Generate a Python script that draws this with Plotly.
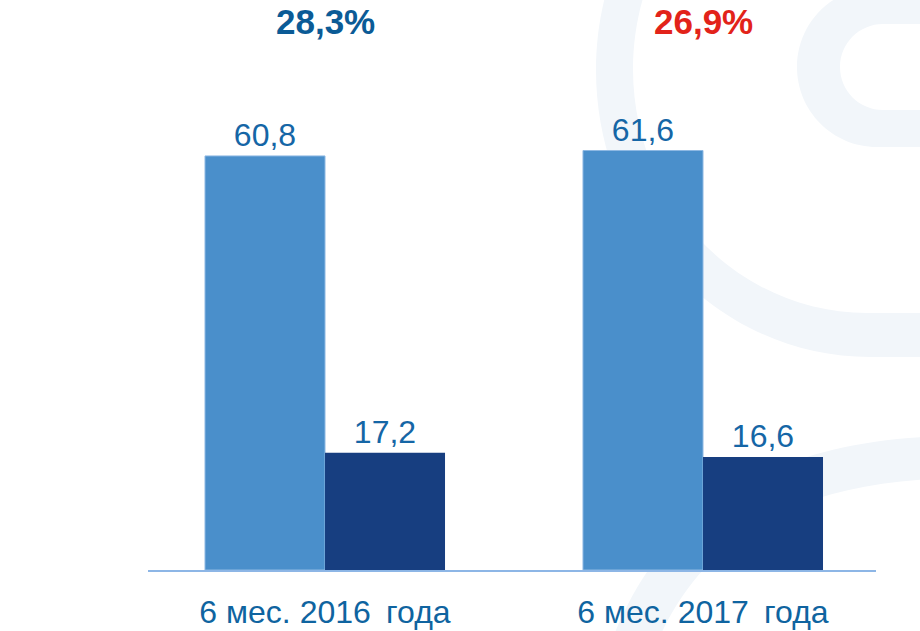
import plotly.graph_objects as go

# ---- data ----
categories = ["6 мес. 2016 \u2009года", "6 мес. 2017 \u2009года"]
series_1_name = "Показатель 1"
series_1_values = [60.8, 61.6]
series_2_name = "Показатель 2"
series_2_values = [17.2, 16.6]
percent_labels = ["28,3%", "26,9%"]
percent_colors = ["#0B5B96", "#E2231A"]

def ru(v):
    return f"{v:.1f}".replace(".", ",")

# ---- layout geometry (pixels) ----
W, H = 920, 631
ML, MR, MT, MB = 148, 44, 100, 61
PW, PH = W - ML - MR, H - MT - MB

def px(x):
    return (x - ML) / PW

def py(y):
    return (H - MB - y) / PH

def path(cmds):
    out = []
    for c in cmds:
        if c[0] == "Z":
            out.append("Z")
            continue
        letter, pts = c[0], c[1:]
        s = " ".join(f"{px(a):.5f},{py(b):.5f}" for a, b in pts)
        out.append(f"{letter} {s}")
    return " ".join(out)

k = 0.5523
# big C-shaped band
ocx, ocy, orx, ory = 870, 70, 274, 287
icx, icy, irx, iry = 867, 69, 234, 244
shape1 = path([
    ("M", (ocx, ocy - ory)),
    ("C", (ocx - k * orx, ocy - ory), (ocx - orx, ocy - k * ory), (ocx - orx, ocy)),
    ("C", (ocx - orx, ocy + k * ory), (ocx - k * orx, ocy + ory), (ocx, ocy + ory)),
    ("L", (960, ocy + ory)),
    ("L", (960, icy + iry)),
    ("L", (icx, icy + iry)),
    ("C", (icx - k * irx, icy + iry), (icx - irx, icy + k * iry), (icx - irx, icy)),
    ("C", (icx - irx, icy - k * iry), (icx - k * irx, icy - iry), (icx, icy - iry)),
    ("Z",),
])
# ring at top right
r_o, r_i = 80, 43
ox, oy, ix, iy = 877, 67, 883, 67
shape2 = path([
    ("M", (ox, oy - r_o)),
    ("C", (ox - k * r_o, oy - r_o), (ox - r_o, oy - k * r_o), (ox - r_o, oy)),
    ("C", (ox - r_o, oy + k * r_o), (ox - k * r_o, oy + r_o), (ox, oy + r_o)),
    ("L", (960, oy + r_o)),
    ("L", (960, iy + r_i)),
    ("L", (ix, iy + r_i)),
    ("C", (ix - k * r_i, iy + r_i), (ix - r_i, iy + k * r_i), (ix - r_i, iy)),
    ("C", (ix - r_i, iy - k * r_i), (ix - k * r_i, iy - r_i), (ix, iy - r_i)),
    ("L", (960, iy - r_i)),
    ("L", (960, oy - r_o)),
    ("Z",),
])
# lower sweeping band
shape3 = path([
    ("M", (960, 436)),
    ("C", (760, 436), (650, 520), (605, 660)),
    ("L", (650, 660)),
    ("C", (695, 540), (790, 480), (960, 478)),
    ("Z",),
])

WM = "#F2F6FA"
shapes = [
    dict(type="path", path=p, xref="paper", yref="paper", fillcolor=WM,
         line=dict(width=0), layer="below")
    for p in (shape1, shape2, shape3)
]

FONT = "Liberation Sans, Arial, sans-serif"

fig = go.Figure()
fig.add_trace(go.Bar(
    name=series_1_name, x=[0, 1], y=series_1_values,
    marker=dict(color="#4A8FCB", line=dict(color="#8DB8E3", width=1)),
    text=[ru(v) for v in series_1_values], textposition="outside",
    textfont=dict(family=FONT, size=32, color="#1566A6"),
    cliponaxis=False,
))
fig.add_trace(go.Bar(
    name=series_2_name, x=[0, 1], y=series_2_values,
    marker=dict(color="#173E80", line=dict(width=0)),
    text=[ru(v) for v in series_2_values], textposition="outside",
    textfont=dict(family=FONT, size=32, color="#1566A6"),
    cliponaxis=False,
))

annotations = [
    dict(x=i, y=1, xref="x", yref="paper", yanchor="middle", yshift=79,
         text=f"<b>{t}</b>", showarrow=False,
         font=dict(family=FONT, size=35, color=c))
    for i, (t, c) in enumerate(zip(percent_labels, percent_colors))
]

fig.update_layout(
    width=W, height=H,
    margin=dict(l=ML, r=MR, t=MT, b=MB, pad=0, autoexpand=False),
    paper_bgcolor="white", plot_bgcolor="rgba(0,0,0,0)",
    barmode="group", bargap=0.365, bargroupgap=0,
    showlegend=False,
    shapes=shapes, annotations=annotations,
    xaxis=dict(
        range=[-0.4683, 1.4577], tickmode="array", tickvals=[0, 1], ticktext=categories,
        showline=True, linecolor="#8DB6E6", linewidth=1.5,
        showgrid=False, zeroline=False, ticks="", automargin=False,
        tickfont=dict(family=FONT, size=32, color="#0F64A0"),
        ticklabelstandoff=13,
    ),
    yaxis=dict(range=[0, PH / 6.81], visible=False, showgrid=False, zeroline=False,
               automargin=False),
)

fig.write_html(
    "out.html",
    config={"displayModeBar": False},
    post_script="document.body.style.margin='0';document.body.style.overflow='hidden';",
)
